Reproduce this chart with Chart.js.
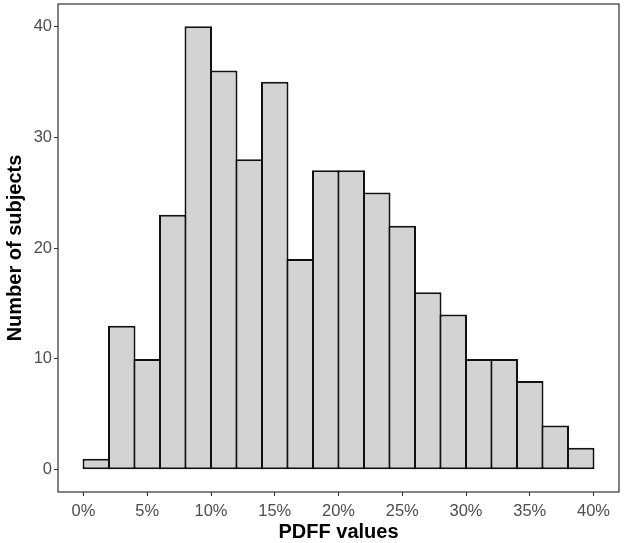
<!DOCTYPE html>
<html>
<head>
<meta charset="utf-8">
<script src="https://cdn.jsdelivr.net/npm/chart.js@4"></script>
<style>
  html, body { margin: 0; padding: 0; background: #fff; }
  #wrap { width: 625px; height: 543px; }
</style>
</head>
<body>
<div id="wrap"><canvas id="histo"></canvas></div>
<script>
// bins of 2% PDFF, left edge of each bin
const binStart = [0, 2, 4, 6, 8, 10, 12, 14, 16, 18, 20, 22, 24, 26, 28, 30, 32, 34, 36, 38];
const binWidth = 2;
const counts = [1, 13, 10, 23, 40, 36, 28, 35, 19, 27, 27, 25, 22, 16, 14, 10, 10, 8, 4, 2];
const xTicks = [0, 5, 10, 15, 20, 25, 30, 35, 40];
const yTicks = [0, 10, 20, 30, 40];

const puntos = binStart.map((b, i) => ({ x: b + binWidth / 2, y: counts[i] }));

const fuente = "'Liberation Sans', Arial, Helvetica, sans-serif";

// marco del panel (estilo ggplot theme_classic + borde)
const marcoPanel = {
    id: 'marcoPanel',
    afterDatasetsDraw(chart) {
        const { ctx, chartArea: a } = chart;
        ctx.save();
        ctx.strokeStyle = '#333333';
        ctx.lineWidth = 1.2;
        ctx.strokeRect(a.left, a.top, a.right - a.left, a.bottom - a.top);
        ctx.restore();
    }
};

new Chart(document.getElementById('histo'), {
    type: 'bar',
    data: {
        datasets: [{
            data: puntos,
            backgroundColor: '#d3d3d3',
            borderColor: '#111111',
            borderWidth: 2,
            borderSkipped: false,
            categoryPercentage: 1,
            barPercentage: 1.078
        }]
    },
    options: {
        responsive: true,
        maintainAspectRatio: false,
        animation: false,
        layout: { padding: { top: 4, right: 6, left: 0, bottom: 0 } },
        plugins: {
            legend: { display: false },
            tooltip: { enabled: false }
        },
        scales: {
            x: {
                type: 'linear',
                min: -2,
                max: 42,
                offset: false,
                border: { display: false },
                grid: { display: true, offset: false, drawOnChartArea: false, drawTicks: true, tickLength: 4, color: '#333333' },
                afterBuildTicks: s => { s.ticks = xTicks.map(v => ({ value: v })); },
                afterFit: s => { s.height = 51; s.paddingLeft = 0; s.paddingRight = 0; },
                ticks: {
                    padding: 6,
                    maxRotation: 0,
                    color: '#4d4d4d',
                    font: { family: fuente, size: 16.5 },
                    callback: v => v + '%'
                },
                title: {
                    display: true,
                    text: 'PDFF values',
                    color: '#000',
                    padding: { top: 0, bottom: -1 },
                    font: { family: fuente, size: 20, weight: 'bold' }
                }
            },
            y: {
                min: -2,
                max: 42,
                border: { display: false },
                grid: { display: true, drawOnChartArea: false, drawTicks: true, tickLength: 4, color: '#333333' },
                afterBuildTicks: s => { s.ticks = yTicks.map(v => ({ value: v })); },
                afterFit: s => { s.width = 58; s.paddingTop = 0; s.paddingBottom = 0; },
                ticks: {
                    padding: 2,
                    color: '#4d4d4d',
                    font: { family: fuente, size: 16.5 }
                },
                title: {
                    display: true,
                    text: 'Number of subjects',
                    color: '#000',
                    padding: { top: 3, bottom: 0 },
                    font: { family: fuente, size: 20, weight: 'bold' }
                }
            }
        }
    },
    plugins: [marcoPanel]
});
</script>
</body>
</html>
